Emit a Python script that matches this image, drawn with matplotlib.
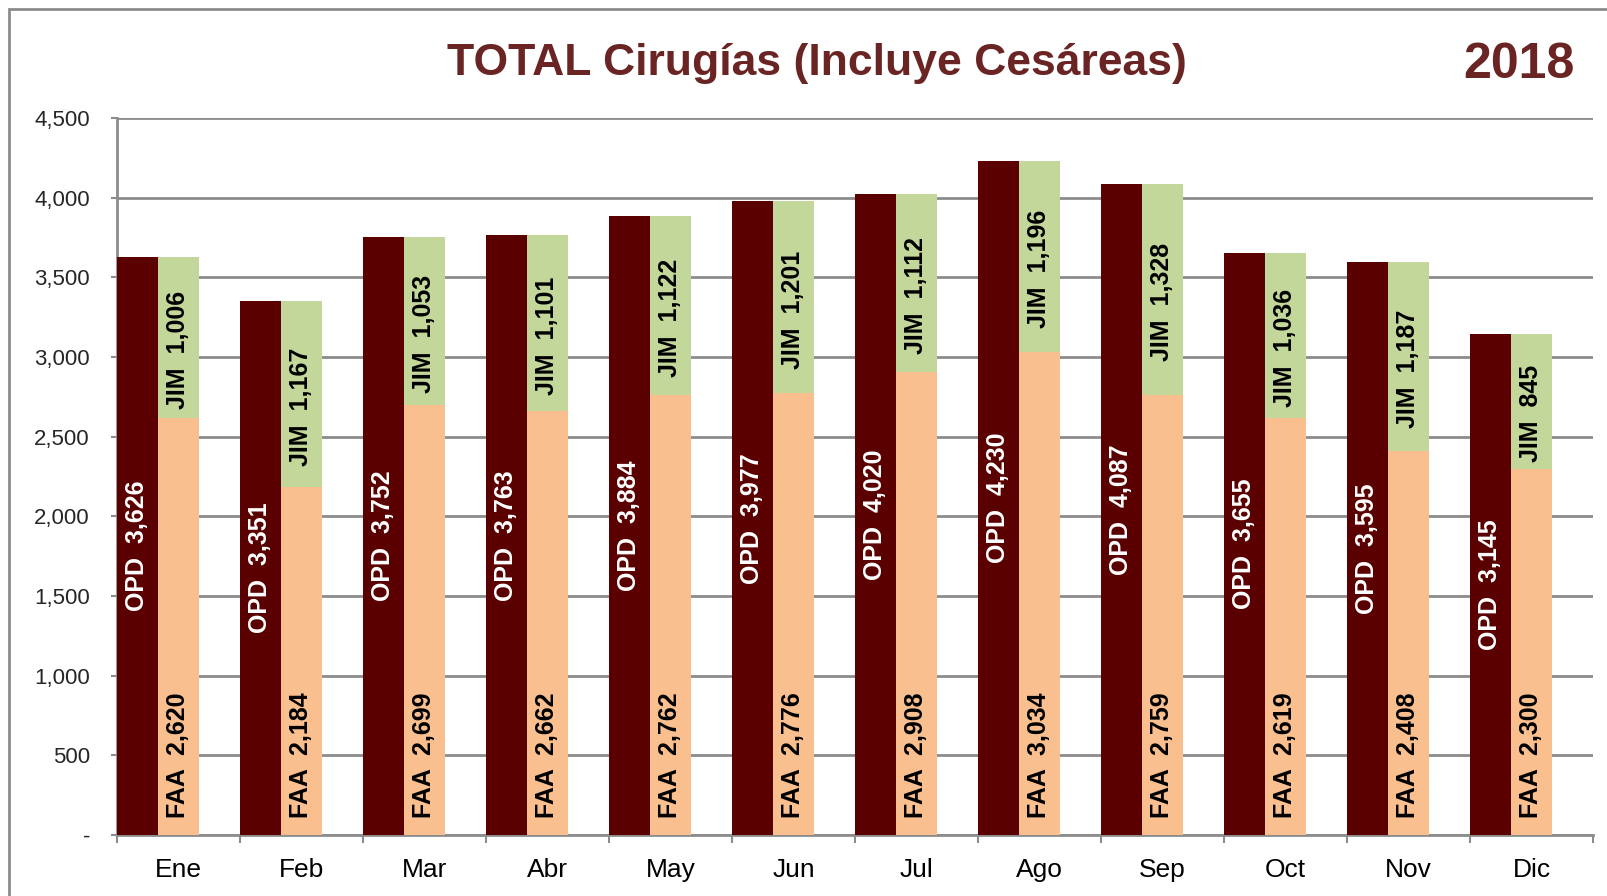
import matplotlib.pyplot as plt
import numpy as np
from matplotlib.patches import Rectangle

plt.rcParams['font.family'] = ['Liberation Sans', 'DejaVu Sans']

# data
meses = ['Ene', 'Feb', 'Mar', 'Abr', 'May', 'Jun', 'Jul', 'Ago', 'Sep', 'Oct', 'Nov', 'Dic']
opd = [3626, 3351, 3752, 3763, 3884, 3977, 4020, 4230, 4087, 3655, 3595, 3145]
faa = [2620, 2184, 2699, 2662, 2762, 2776, 2908, 3034, 2759, 2619, 2408, 2300]
jim = [1006, 1167, 1053, 1101, 1122, 1201, 1112, 1196, 1328, 1036, 1187, 845]
yticks = [0, 500, 1000, 1500, 2000, 2500, 3000, 3500, 4000, 4500]

c_opd = '#5A0000'
c_faa = '#F9BF8F'
c_jim = '#C4D79B'
grid_c = '#8C8C8C'
title_c = '#6B2424'

fig = plt.figure(figsize=(16.08, 8.96), dpi=100)
ax = fig.add_axes([117 / 1608, 1 - 835 / 896, (1593 - 117) / 1608, (835 - 118) / 896])

x = np.arange(len(meses))
w = 1 / 3
ax.bar(x - w, opd, width=w, color=c_opd, zorder=3)
ax.bar(x, faa, width=w, color=c_faa, zorder=3)
ax.bar(x, jim, width=w, bottom=faa, color=c_jim, zorder=3)

lbl = dict(rotation=90, fontsize=18, fontweight='bold', ha='center')
for i in range(len(meses)):
    ax.text(x[i] - w, opd[i] / 2, f'OPD  {opd[i]:,}', color='white', va='center', zorder=4, **lbl)
    ax.annotate(f'FAA  {faa[i]:,}', (x[i], 0), xytext=(0, 12), textcoords='offset points',
                color='black', va='bottom', zorder=4, **lbl)
    ax.annotate(f'JIM  {jim[i]:,}', (x[i], faa[i] + jim[i] / 2), xytext=(0, -9),
                textcoords='offset points', color='black', va='center', zorder=4, **lbl)

ax.set_xlim(-0.5, len(meses) - 0.5)
ax.set_ylim(0, 4500)
ax.set_yticks(yticks)
ax.set_yticklabels(['-'] + [f'{v:,}' for v in yticks[1:]])
ax.yaxis.grid(True, color=grid_c, linewidth=2, zorder=0)
ax.tick_params(axis='y', labelsize=16, colors=grid_c, labelcolor='#262626', length=4.5, width=1.5, pad=15)

ax.set_xticks(np.arange(len(meses) + 1) - 0.5)
ax.set_xticklabels([])
ax.set_xticks(x, minor=True)
ax.set_xticklabels(meses, minor=True, fontsize=19)
ax.tick_params(axis='x', which='major', length=6, width=1.5, colors=grid_c)
ax.tick_params(axis='x', which='minor', length=0, pad=16.5, labelcolor='black')

for s in ['top', 'right']:
    ax.spines[s].set_visible(False)
for s in ['left', 'bottom']:
    ax.spines[s].set_color(grid_c)
    ax.spines[s].set_linewidth(2)

fig.text(0.508, 0.929, 'TOTAL Cirugías (Incluye Cesáreas)', ha='center', va='center',
         fontsize=32, fontweight='bold', color=title_c)
fig.text(0.9447, 0.927, '2018', ha='center', va='center', fontsize=36, fontweight='bold', color=title_c)

# outer chart border (cropped on right/bottom)
fig.patches.append(Rectangle((9 / 1608, -0.1), 1.2, 1 - 9 / 896 + 0.1, transform=fig.transFigure,
                             fill=False, edgecolor=grid_c, linewidth=2))

fig.savefig('out.png', dpi=100)
